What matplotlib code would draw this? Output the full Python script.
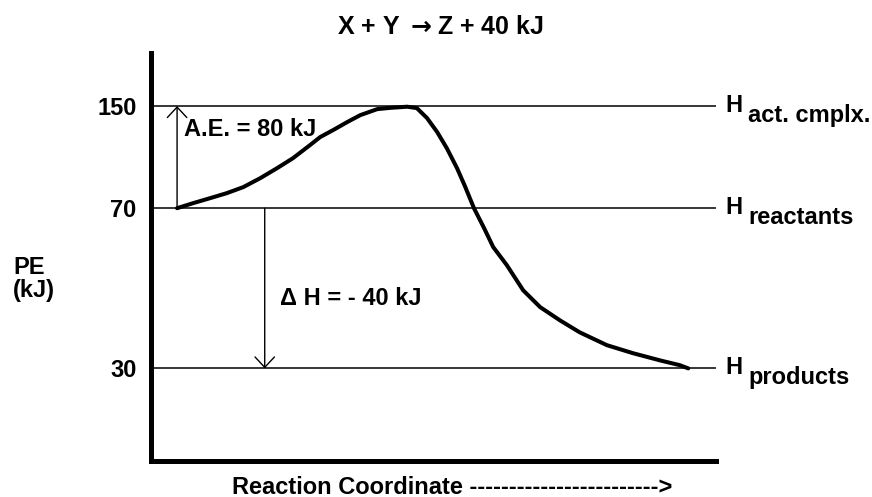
import numpy as np
import matplotlib
matplotlib.use("Agg")
import matplotlib.pyplot as plt

plt.rcParams['font.family'] = ['Liberation Sans', 'DejaVu Sans']
plt.rcParams['font.weight'] = 'bold'
plt.rcParams['mathtext.fontset'] = 'dejavusans'
FS = 17

# energy levels (kJ) and their labels
levels = [150, 70, 30]
level_subs = ["act. cmplx.", "reactants", "products"]

# reaction path: reaction coordinate (0-100) vs PE (kJ)
rc = [4.7, 7.5, 10.5, 13.5, 16.4, 19.4, 22.4, 25.2, 28.2, 30.0, 32.3,
      34.8, 37.1, 40.1, 42.4, 45.4, 47.1, 48.9, 50.7, 52.4, 54.2, 55.6,
      57.2, 59.0, 60.6, 63.0, 65.9, 68.9, 72.4, 75.9, 80.7, 85.3, 90.1,
      93.6, 95.1]
pe = [70, 73.9, 77.8, 81.8, 86.5, 93.5, 101.4, 109.2, 119.4, 125.7, 131.2,
      137.5, 142.9, 147.6, 148.6, 149.5, 148.4, 140.6, 129.6, 117, 101.4, 87.3,
      70, 65, 60.3, 55.8, 49.5, 45.3, 42, 39, 35.8, 33.8, 32,
      30.8, 30]

ae_x, dh_x = 4.7, 20.2

# the drawing is not to scale: piecewise mapping kJ -> axis height
kj_pts = np.array([0, 30, 70, 150, 190])
ax_pts = np.array([0, 92, 252, 354, 407])


def fwd(y):
    return np.interp(y, kj_pts, ax_pts)


def inv(p):
    return np.interp(p, ax_pts, kj_pts)


fig = plt.figure(figsize=(8.72, 4.97), dpi=100)
ax = fig.add_axes([150.5 / 872, 36.5 / 497, (716 - 150.5) / 872, (460.5 - 53) / 497])
ax.set_yscale('function', functions=(fwd, inv))
ax.set_xlim(0, 100)
ax.set_ylim(0, 190)

for s in ['top', 'right']:
    ax.spines[s].set_visible(False)
for s in ['left', 'bottom']:
    ax.spines[s].set_linewidth(3.6)
    ax.spines[s].set_capstyle('projecting')

ax.set_xticks([])
ax.set_yticks(levels)
ax.set_yticklabels([str(v) for v in levels])
ax.tick_params(axis='y', length=0, pad=10, labelsize=FS)
ax.yaxis.set_minor_locator(matplotlib.ticker.NullLocator())

ax.hlines(levels, 0, 100, color='black', lw=1.1)
ax.plot(rc, pe, color='black', lw=2.9, solid_capstyle='round', solid_joinstyle='round')

arr = dict(arrowstyle='->,head_length=0.75,head_width=0.7', lw=1.0, color='black',
           shrinkA=0, shrinkB=0, mutation_scale=10)
ax.annotate('', xy=(ae_x, 150), xytext=(ae_x, 70), arrowprops=arr)
ax.annotate('', xy=(dh_x, 30), xytext=(dh_x, 70), arrowprops=arr)

ax.text(5.9, 132, "A.E. = 80 kJ", fontsize=FS, va='center', ha='left')
ax.text(22.9, 47.5, "Δ H = - 40 kJ", fontsize=FS, va='center', ha='left')

for lv, sub in zip(levels, level_subs):
    ax.annotate("H", xy=(100, lv), xytext=(9, 1), textcoords='offset pixels',
                fontsize=FS, ha='left', va='center', annotation_clip=False)
    ax.annotate(sub, xy=(100, lv), xytext=(32, -16), textcoords='offset pixels',
                fontsize=FS, ha='left', va='baseline', annotation_clip=False)

fig.text(440 / 872, 1 - 27 / 497, r"X + Y $\rightarrow$Z + 40 kJ", fontsize=18,
         ha='center', va='center')
fig.text(232 / 872, 1 - 487 / 497, "Reaction Coordinate " + "-" * 24 + ">",
         fontsize=FS, ha='left', va='center')
fig.text(13 / 872, 1 - 256 / 497, "PE\n(kJ)", fontsize=FS, ha='left', va='top', linespacing=1.0)

fig.savefig("out.png", dpi=100)
